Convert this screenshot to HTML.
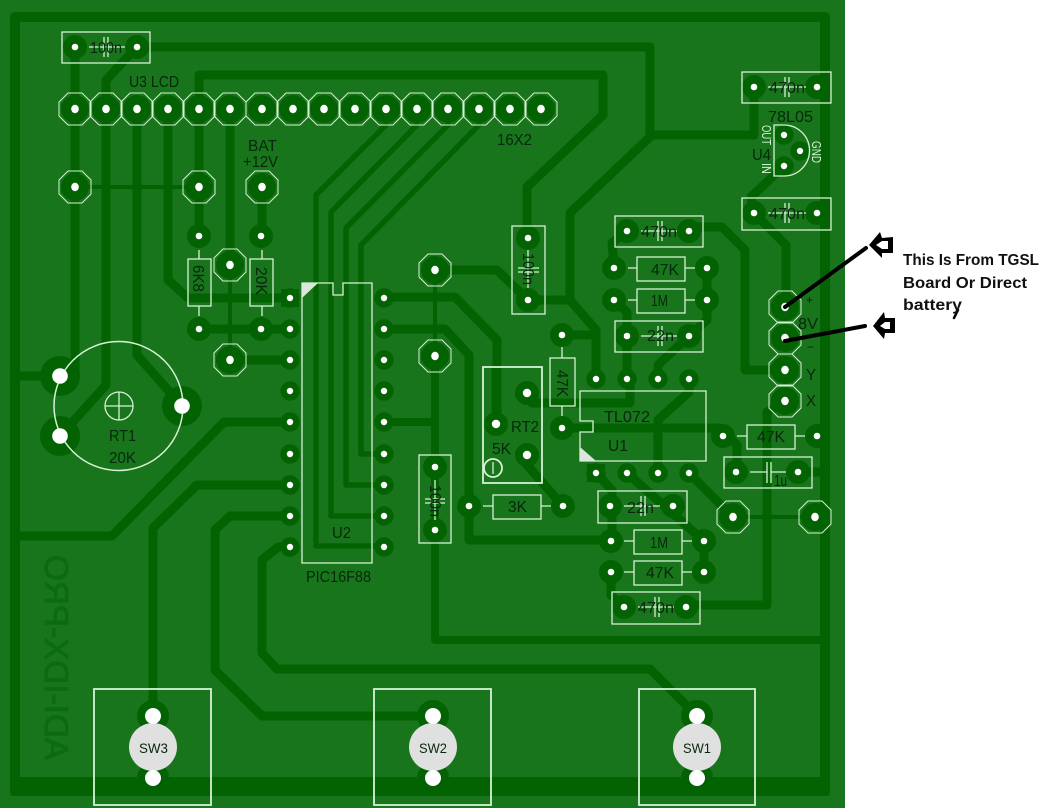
<!DOCTYPE html>
<html><head><meta charset="utf-8"><style>
html,body{margin:0;padding:0;background:#fff;width:1040px;height:808px;overflow:hidden}
svg{display:block}
.t{fill:none;stroke:#036303;stroke-width:9;stroke-linejoin:round;stroke-linecap:round}
.p{fill:#036303}
.h{fill:#fff}
.s{fill:none;stroke:#d6f2d6;stroke-width:1.3}
.x{font-family:"Liberation Sans",sans-serif;font-size:16px;fill:#06280c}
.y{font-family:"Liberation Sans",sans-serif;font-size:13px;fill:#d6f2d6}
.b{font-family:"Liberation Sans",sans-serif;font-size:16px;font-weight:bold;fill:#111}
</style></head><body>
<svg width="1040" height="808" viewBox="0 0 1040 808" xmlns="http://www.w3.org/2000/svg">
<defs>
<g id="o"><circle r="14" fill="#036303"/><ellipse rx="3.8" ry="4.2" fill="#fff"/><polygon points="-7,-16 7,-16 16,-7 16,7 7,16 -7,16 -16,7 -16,-7" fill="none" stroke="#d6f2d6" stroke-width="1"/></g>
<g id="a"><circle r="12" fill="#036303"/><circle r="3.3" fill="#fff"/></g>
<g id="c"><circle r="9.7" fill="#036303"/><circle r="3.2" fill="#fff"/></g>
</defs>
<rect x="0" y="0" width="845" height="808" fill="#19751b"/>

<text transform="translate(45,760) rotate(-90) scale(1,-1)" font-family="Liberation Sans,sans-serif" font-size="33" fill="#0c6a12" stroke="#0c6a12" stroke-width="1" textLength="205" lengthAdjust="spacingAndGlyphs">ADI-IDX-PRO</text>

<!-- traces -->
<rect x="10" y="777" width="820" height="19" rx="3" class="p"/>
<g class="t">
<path d="M15 786V17H825V786" stroke-width="10" stroke-linecap="butt"/>
<path d="M15 536H112L224 422H290"/>
<path d="M137 47H650V135M753 135H652L570 213V300L596 330V379"/>
<path d="M528 300H568M754 87V135"/>
<path d="M137 47L106 80V385L60 436"/>
<path d="M75 47V376L60 376H15"/>
<path d="M137 109V355L182 406"/>
<path d="M168 109V280L188 298H290"/>
<path d="M199 109V75H603V115L527 187V238"/>
<path d="M199 109V236M262 186V236"/>
<path d="M230 109V265"/>
<path d="M75 187H199" stroke-width="4"/>
<path d="M230 265V360" stroke-width="4"/>
<path d="M199 329H290M230 360H290"/>
<path d="M386 125L316 195V546H384" stroke-width="5.5"/>
<path d="M417 125L331 212V516H384" stroke-width="5.5"/>
<path d="M448 125L346 228V485H384" stroke-width="5.5"/>
<path d="M479 125L361 245V454H384" stroke-width="5.5"/>
<path d="M384 297H455L497 340V424"/>
<path d="M384 329H445L469 355V540H611"/>
<path d="M435 270H497L528 300"/>
<path d="M435 270V356" stroke-width="4"/>
<path d="M435 356V640H825" stroke-width="8"/>
<path d="M384 422H435" stroke-width="8"/>
<path d="M290 485H197L153 528V716"/>
<path d="M290 516H230L215 530V670L262 716H433"/>
<path d="M290 547H278L262 560V653L277 669H650L697 716"/>
<path d="M784 166L751 197L754 213L786 245V307"/>
<path d="M689 227H722L745 250V370H785"/>
<path d="M627 231L612 243L614 268"/>
<path d="M707 268V320L689 336L658 365V379"/>
<path d="M614 300L627 312V379"/>
<path d="M562 335H596"/>
<path d="M689 379V392L658 420V473"/>
<path d="M562 428H720L737 445V472"/>
<path d="M798 472H825M817 436H825"/>
<path d="M785 401L767 412V605H686"/>
<path d="M624 607L611 595V572"/>
<path d="M704 541V572"/>
<path d="M596 473L612 490V541"/>
<path d="M627 473L704 541"/>
<path d="M689 473L733 517"/>
<path d="M733 517H815" stroke-width="4"/>
<path d="M527 393L532 403H630V379"/>
<path d="M496 367V424"/>
<path d="M527 455V465L563 506"/>
<path d="M153 778V786M433 778V786M697 778V786" stroke-width="14"/>
</g>

<!-- big pads -->
<g>
<circle cx="60" cy="376" r="20" class="p"/><circle cx="60" cy="436" r="20" class="p"/><circle cx="182" cy="406" r="20" class="p"/>
<circle cx="153" cy="716" r="16" class="p"/><circle cx="153" cy="778" r="16" class="p"/>
<circle cx="433" cy="716" r="16" class="p"/><circle cx="433" cy="778" r="16" class="p"/>
<circle cx="697" cy="716" r="16" class="p"/><circle cx="697" cy="778" r="16" class="p"/>
</g>

<!-- LCD + octagon pads -->
<use href="#o" x="75" y="109"/><use href="#o" x="106" y="109"/><use href="#o" x="137" y="109"/><use href="#o" x="168" y="109"/>
<use href="#o" x="199" y="109"/><use href="#o" x="230" y="109"/><use href="#o" x="262" y="109"/><use href="#o" x="293" y="109"/>
<use href="#o" x="324" y="109"/><use href="#o" x="355" y="109"/><use href="#o" x="386" y="109"/><use href="#o" x="417" y="109"/>
<use href="#o" x="448" y="109"/><use href="#o" x="479" y="109"/><use href="#o" x="510" y="109"/><use href="#o" x="541" y="109"/>
<use href="#o" x="75" y="187"/><use href="#o" x="199" y="187"/><use href="#o" x="262" y="187"/>
<use href="#o" x="230" y="265"/><use href="#o" x="230" y="360"/>
<use href="#o" x="435" y="270"/><use href="#o" x="435" y="356"/>
<use href="#o" x="785" y="307"/><use href="#o" x="785" y="338"/><use href="#o" x="785" y="370"/><use href="#o" x="785" y="401"/>
<use href="#o" x="733" y="517"/><use href="#o" x="815" y="517"/>

<!-- small pads -->
<use href="#a" x="75" y="47"/><use href="#a" x="137" y="47"/>
<use href="#a" x="199" y="236"/><use href="#a" x="261" y="236"/><use href="#a" x="199" y="329"/><use href="#a" x="261" y="329"/>
<use href="#a" x="528" y="238"/><use href="#a" x="528" y="300"/>
<use href="#a" x="435" y="467"/><use href="#a" x="435" y="530"/>
<use href="#a" x="754" y="87"/><use href="#a" x="817" y="87"/><use href="#a" x="754" y="213"/><use href="#a" x="817" y="213"/>
<use href="#a" x="627" y="231"/><use href="#a" x="689" y="231"/><use href="#a" x="614" y="268"/><use href="#a" x="707" y="268"/>
<use href="#a" x="614" y="300"/><use href="#a" x="707" y="300"/><use href="#a" x="627" y="336"/><use href="#a" x="689" y="336"/>
<use href="#a" x="562" y="335"/><use href="#a" x="562" y="428"/>
<use href="#a" x="723" y="436"/><use href="#a" x="817" y="436"/><use href="#a" x="736" y="472"/><use href="#a" x="798" y="472"/>
<use href="#a" x="469" y="506"/><use href="#a" x="563" y="506"/><use href="#a" x="610" y="506"/><use href="#a" x="673" y="506"/>
<use href="#a" x="611" y="541"/><use href="#a" x="704" y="541"/><use href="#a" x="611" y="572"/><use href="#a" x="704" y="572"/>
<use href="#a" x="624" y="607"/><use href="#a" x="686" y="607"/>

<!-- IC pins -->
<rect x="281" y="289" width="18" height="18" class="p"/><rect x="587" y="464" width="18" height="18" class="p"/>
<use href="#c" x="290" y="298"/><use href="#c" x="290" y="329"/><use href="#c" x="290" y="360"/><use href="#c" x="290" y="391"/><use href="#c" x="290" y="422"/><use href="#c" x="290" y="454"/><use href="#c" x="290" y="485"/><use href="#c" x="290" y="516"/><use href="#c" x="290" y="547"/>
<use href="#c" x="384" y="298"/><use href="#c" x="384" y="329"/><use href="#c" x="384" y="360"/><use href="#c" x="384" y="391"/><use href="#c" x="384" y="422"/><use href="#c" x="384" y="454"/><use href="#c" x="384" y="485"/><use href="#c" x="384" y="516"/><use href="#c" x="384" y="547"/>
<use href="#c" x="596" y="379"/><use href="#c" x="627" y="379"/><use href="#c" x="658" y="379"/><use href="#c" x="689" y="379"/>
<use href="#c" x="596" y="473"/><use href="#c" x="627" y="473"/><use href="#c" x="658" y="473"/><use href="#c" x="689" y="473"/>
<use href="#c" x="784" y="135"/><use href="#c" x="800" y="151"/><use href="#c" x="784" y="166"/>
<circle cx="527" cy="393" r="12" class="p"/><circle cx="527" cy="393" r="4.2" class="h"/>
<circle cx="496" cy="424" r="12" class="p"/><circle cx="496" cy="424" r="4.2" class="h"/>
<circle cx="527" cy="455" r="12" class="p"/><circle cx="527" cy="455" r="4.2" class="h"/>

<!-- RT1 outline, then big holes and switches -->
<circle cx="118.5" cy="406" r="64.5" fill="none" stroke="#d6f2d6" stroke-width="1.5"/>
<circle cx="60" cy="376" r="7.8" class="h"/><circle cx="60" cy="436" r="7.8" class="h"/><circle cx="182" cy="406" r="7.8" class="h"/>
<circle cx="153" cy="747" r="24" fill="#e0e0e0"/><circle cx="433" cy="747" r="24" fill="#e0e0e0"/><circle cx="697" cy="747" r="24" fill="#e0e0e0"/>
<circle cx="153" cy="716" r="8" class="h"/><circle cx="153" cy="778" r="8" class="h"/>
<circle cx="433" cy="716" r="8" class="h"/><circle cx="433" cy="778" r="8" class="h"/>
<circle cx="697" cy="716" r="8" class="h"/><circle cx="697" cy="778" r="8" class="h"/>

<!-- silk -->
<g class="s">
<rect x="94" y="689" width="117" height="116" stroke-width="1.8"/>
<rect x="374" y="689" width="117" height="116" stroke-width="1.8"/>
<rect x="639" y="689" width="116" height="116" stroke-width="1.8"/>
<circle cx="119" cy="406" r="14"/><path d="M105 406H133M119 392V420"/>
<rect x="62" y="32" width="88" height="31"/><path d="M89 47H125M104 37V57M108 37V57"/>
<rect x="188" y="259" width="23" height="47"/><path d="M199 250V259M199 306V316"/>
<rect x="250" y="259" width="23" height="47"/><path d="M262 250V259M262 306V316"/>
<path d="M302 283H333V295H343V283H372V563H302Z"/>
<rect x="512" y="226" width="33" height="88"/><path d="M528 250V288M518 268H539M518 272H539"/>
<rect x="419" y="455" width="32" height="88"/><path d="M435 480V520M425 499H445M425 503H445"/>
<rect x="742" y="72" width="89" height="31"/><path d="M768 87H806M785 77V97M789 77V97"/>
<rect x="742" y="198" width="89" height="32"/><path d="M768 213H806M785 203V223M789 203V223"/>
<rect x="615" y="216" width="88" height="31"/><path d="M641 231H677M658 221V241M662 221V241"/>
<rect x="637" y="257" width="48" height="24"/><path d="M628 268H637M685 268H695"/>
<rect x="637" y="289" width="48" height="24"/><path d="M628 300H637M685 300H695"/>
<rect x="615" y="321" width="88" height="31"/><path d="M641 336H677M658 326V346M662 326V346"/>
<rect x="550" y="358" width="25" height="48"/><path d="M562 347V358M562 406V416"/>
<rect x="483" y="367" width="59" height="116" stroke-width="1.8"/>
<circle cx="493" cy="468" r="9" stroke-width="1.8"/><path d="M493 462V474"/>
<rect x="493" y="495" width="48" height="24"/><path d="M483 506H493M541 506H551"/>
<path d="M580 391H706V461H580V432H593V421H580Z"/>
<rect x="747" y="425" width="48" height="24"/><path d="M737 436H747M795 436H805"/>
<rect x="724" y="457" width="88" height="31"/><path d="M750 472H767M771 472H786M767 462V483M771 462V483"/>
<rect x="598" y="491" width="89" height="32"/><path d="M624 506H660M641 496V516M645 496V516"/>
<rect x="634" y="530" width="48" height="24"/><path d="M624 541H634M682 541H692"/>
<rect x="634" y="561" width="48" height="24"/><path d="M624 572H634M682 572H692"/>
<rect x="612" y="592" width="88" height="32"/><path d="M638 607H674M655 597V617M659 597V617"/>
<path d="M774 125H784A25.5 25.5 0 0 1 784 176H774Z"/>
</g>
<polygon points="302,283 318,283 302,298" fill="#dde6dd"/>
<polygon points="580,447 596,461 580,461" fill="#dde6dd"/>

<!-- labels -->
<g class="x">
<text x="90" y="53" textLength="32" lengthAdjust="spacingAndGlyphs">100n</text>
<text x="129" y="87" textLength="50" lengthAdjust="spacingAndGlyphs">U3 LCD</text>
<text x="497" y="145" textLength="35" lengthAdjust="spacingAndGlyphs">16X2</text>
<text x="248" y="151" textLength="29" lengthAdjust="spacingAndGlyphs">BAT</text>
<text x="243" y="167" textLength="35" lengthAdjust="spacingAndGlyphs">+12V</text>
<text transform="translate(193,265) rotate(90)" textLength="27" lengthAdjust="spacingAndGlyphs">6K8</text>
<text transform="translate(256,267) rotate(90)" textLength="28" lengthAdjust="spacingAndGlyphs">20K</text>
<text x="306" y="582" textLength="65" lengthAdjust="spacingAndGlyphs">PIC16F88</text>
<text x="332" y="538" textLength="19" lengthAdjust="spacingAndGlyphs">U2</text>
<text x="109" y="441" textLength="27" lengthAdjust="spacingAndGlyphs">RT1</text>
<text x="109" y="463" textLength="27" lengthAdjust="spacingAndGlyphs">20K</text>
<text x="768" y="122" textLength="45" lengthAdjust="spacingAndGlyphs">78L05</text>
<text x="752" y="160" textLength="19" lengthAdjust="spacingAndGlyphs">U4</text>
<text x="769" y="93" textLength="36" lengthAdjust="spacingAndGlyphs">470n</text>
<text x="769" y="219" textLength="36" lengthAdjust="spacingAndGlyphs">470n</text>
<text x="641" y="237" textLength="36" lengthAdjust="spacingAndGlyphs">470n</text>
<text x="651" y="275" textLength="28" lengthAdjust="spacingAndGlyphs">47K</text>
<text x="651" y="306" textLength="17" lengthAdjust="spacingAndGlyphs">1M</text>
<text x="647" y="341" textLength="27" lengthAdjust="spacingAndGlyphs">22n</text>
<text transform="translate(523,253) rotate(90)" textLength="32" lengthAdjust="spacingAndGlyphs">100n</text>
<text transform="translate(430,485) rotate(90)" textLength="32" lengthAdjust="spacingAndGlyphs">100n</text>
<text transform="translate(557,370) rotate(90)" textLength="27" lengthAdjust="spacingAndGlyphs">47K</text>
<text x="604" y="422" textLength="46" lengthAdjust="spacingAndGlyphs">TL072</text>
<text x="608" y="451" textLength="20" lengthAdjust="spacingAndGlyphs">U1</text>
<text x="511" y="432" textLength="28" lengthAdjust="spacingAndGlyphs">RT2</text>
<text x="492" y="454" textLength="19" lengthAdjust="spacingAndGlyphs">5K</text>
<text x="508" y="512" textLength="19" lengthAdjust="spacingAndGlyphs">3K</text>
<text x="757" y="442" textLength="28" lengthAdjust="spacingAndGlyphs">47K</text>
<text x="774" y="486" textLength="13" lengthAdjust="spacingAndGlyphs">1u</text>
<text x="627" y="513" textLength="27" lengthAdjust="spacingAndGlyphs">22n</text>
<text x="650" y="548" textLength="18" lengthAdjust="spacingAndGlyphs">1M</text>
<text x="646" y="578" textLength="28" lengthAdjust="spacingAndGlyphs">47K</text>
<text x="638" y="613" textLength="36" lengthAdjust="spacingAndGlyphs">470n</text>
<text x="139" y="753" font-size="14" textLength="29" lengthAdjust="spacingAndGlyphs">SW3</text>
<text x="419" y="753" font-size="14" textLength="28" lengthAdjust="spacingAndGlyphs">SW2</text>
<text x="683" y="753" font-size="14" textLength="28" lengthAdjust="spacingAndGlyphs">SW1</text>
<text x="806" y="304" font-size="12">+</text>
<text x="798" y="329" textLength="20" lengthAdjust="spacingAndGlyphs">8V</text>
<text x="807" y="351" font-size="12">−</text>
<text x="806" y="380" textLength="10" lengthAdjust="spacingAndGlyphs">Y</text>
<text x="806" y="406" textLength="10" lengthAdjust="spacingAndGlyphs">X</text>
</g>
<g class="y">
<text transform="translate(762,125) rotate(90)" textLength="20" lengthAdjust="spacingAndGlyphs">OUT</text>
<text transform="translate(762,163) rotate(90)" textLength="11" lengthAdjust="spacingAndGlyphs">IN</text>
<text transform="translate(812,141) rotate(90)" textLength="22" lengthAdjust="spacingAndGlyphs">GND</text>
</g>

<!-- annotation -->
<g fill="none" stroke="#000" stroke-linecap="round">
<path d="M785 307L866 248" stroke-width="4"/>
<path d="M785 341L865 326" stroke-width="4"/>
<path d="M958 310L954 318" stroke-width="2.5"/>
</g>
<polygon points="869,245 880,232 882,238 893,237 893,253 882,253 882,258" fill="#000"/>
<polygon points="876,245 882,241 888,241 888,249 882,249" fill="#fff"/>
<polygon points="873,326 884,312 885,318 895,318 895,333 885,333 884,339" fill="#000"/>
<polygon points="880,326 885,322 890,322 890,329 885,329" fill="#fff"/>
<g class="b">
<text x="903" y="265" textLength="136" lengthAdjust="spacingAndGlyphs">This Is From TGSL</text>
<text x="903" y="288" textLength="124" lengthAdjust="spacingAndGlyphs">Board Or Direct</text>
<text x="903" y="310" textLength="59" lengthAdjust="spacingAndGlyphs">battery</text>
</g>
</svg>
</body></html>
